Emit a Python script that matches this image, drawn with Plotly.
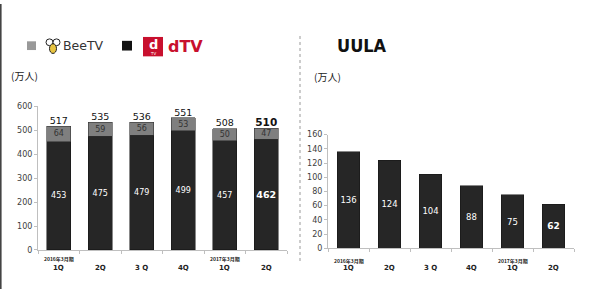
import plotly.graph_objects as go

W, H = 590, 294

# ---------------- data ----------------
quarters = ["1Q", "2Q", "3 Q", "4Q", "1Q", "2Q"]
periods = ["2016年3月期", "", "", "", "2017年3月期", ""]
dtv = [453, 475, 479, 499, 457, 462]
beetv = [64, 59, 56, 53, 50, 47]
totals = [517, 535, 536, 551, 508, 510]
uula = [136, 124, 104, 88, 75, 62]

def px(x):
    return x / W

def py(y):
    return 1 - y / H

BLACK = "#262626"
GRAY = "#7f7f7f"
RED = "#c8102e"
FONT = "DejaVu Sans"

xs = list(range(len(quarters)))
last = len(xs) - 1

fig = go.Figure()

# left chart: dTV (black) + BeeTV (gray)
fig.add_trace(go.Bar(
    x=xs, y=dtv, xaxis="x", yaxis="y", width=0.58,
    marker=dict(color=BLACK, line=dict(color="#111111", width=0.5)),
    text=[("<b>%d</b>" % v) if i == last else str(v) for i, v in enumerate(dtv)],
    textposition="inside", insidetextanchor="middle", constraintext="none", textangle=0,
    textfont=dict(color="white", family=FONT, size=[8, 8, 8, 8, 8, 9.5]),
    hoverinfo="skip", showlegend=False))
fig.add_trace(go.Bar(
    x=xs, y=beetv, xaxis="x", yaxis="y", width=0.58,
    marker=dict(color=GRAY, line=dict(color="#333333", width=0.6)),
    text=[str(v) for v in beetv],
    textposition="inside", insidetextanchor="middle", constraintext="none", textangle=0,
    textfont=dict(color="#333333", family=FONT, size=8),
    hoverinfo="skip", showlegend=False))
fig.add_trace(go.Scatter(
    x=xs, y=[a + b for a, b in zip(dtv, beetv)], xaxis="x", yaxis="y",
    mode="text",
    text=[("<b>%d</b>" % v) if i == last else str(v) for i, v in enumerate(totals)],
    textposition="top center",
    textfont=dict(color="#111111", family=FONT, size=[9.5, 9.5, 9.5, 9.5, 9.5, 10.5]),
    hoverinfo="skip", showlegend=False))

# right chart: UULA
fig.add_trace(go.Bar(
    x=xs, y=uula, xaxis="x2", yaxis="y2", width=0.56,
    marker=dict(color=BLACK, line=dict(color="#111111", width=0.5)),
    text=[("<b>%d</b>" % v) if i == last else str(v) for i, v in enumerate(uula)],
    textposition="inside", insidetextanchor="middle", constraintext="none", textangle=0,
    textfont=dict(color="white", family=FONT, size=[8.5, 8.5, 8.5, 8.5, 8.5, 9]),
    hoverinfo="skip", showlegend=False))

axis_common = dict(
    showgrid=False, zeroline=False, showline=True, linecolor="#bfbfbf", linewidth=1,
    tickfont=dict(family=FONT, size=8, color="#404040"),
)

xaxis_common = dict(
    showgrid=False, zeroline=False, showline=True, linecolor="#bfbfbf", linewidth=1,
    range=[-0.5, 5.5], tickvals=xs, ticktext=[""] * len(xs), ticks="",
    minor=dict(tick0=-0.5, dtick=1, ticks="outside", ticklen=3, tickcolor="#bfbfbf"),
)

fig.update_layout(
    width=W, height=H,
    margin=dict(l=0, r=0, t=0, b=0),
    paper_bgcolor="white", plot_bgcolor="white",
    barmode="stack", bargap=0.42,
    xaxis=dict(domain=[px(38), px(287)], anchor="y", **xaxis_common),
    yaxis=dict(domain=[py(253.7), py(105.7)], anchor="x", range=[0, 600],
               tickvals=[0, 100, 200, 300, 400, 500, 600],
               ticks="outside", ticklen=3, tickcolor="#bfbfbf", **axis_common),
    xaxis2=dict(domain=[px(328), px(574)], anchor="y2", **xaxis_common),
    yaxis2=dict(domain=[py(252), py(134.7)], anchor="x2", range=[0, 160],
                tickvals=[0, 20, 40, 60, 80, 100, 120, 140, 160],
                ticks="outside", ticklen=3, tickcolor="#bfbfbf", **axis_common),
)

ann = []
# x labels (two lines)
for xr, yp_per, yp_q in (("x", 263.5, 272), ("x2", 265.5, 272.5)):
    for i in xs:
        if periods[i]:
            ann.append(dict(x=i, y=py(yp_per), xref=xr, yref="paper", text="<b>%s</b>" % periods[i],
                            showarrow=False, font=dict(family="Noto Sans CJK JP", size=5, color="#222"),
                            xanchor="center", yanchor="middle"))
        ann.append(dict(x=i, y=py(yp_q), xref=xr, yref="paper", text="<b>%s</b>" % quarters[i],
                        showarrow=False, font=dict(family=FONT, size=7, color="#222"),
                        xanchor="center", yanchor="middle"))

# unit labels
ann.append(dict(x=px(9), y=py(73.5), xref="paper", yref="paper", text="(万人)", showarrow=False,
                font=dict(family="Noto Sans CJK JP", size=10, color="#222"), xanchor="left", yanchor="middle"))
ann.append(dict(x=px(312), y=py(75), xref="paper", yref="paper", text="(万人)", showarrow=False,
                font=dict(family="Noto Sans CJK JP", size=10, color="#222"), xanchor="left", yanchor="middle"))

# legend texts / logos
ann.append(dict(x=px(61), y=py(43), xref="paper", yref="paper", text="BeeTV", showarrow=False,
                font=dict(family=FONT, size=12.5, color="#333"), xanchor="left", yanchor="middle"))
ann.append(dict(x=px(153), y=py(41.5), xref="paper", yref="paper", text="<b>d</b>", showarrow=False,
                font=dict(family=FONT, size=13, color="white"), xanchor="center", yanchor="middle"))
ann.append(dict(x=px(153), y=py(51), xref="paper", yref="paper", text="TV", showarrow=False,
                font=dict(family=FONT, size=4, color="white"), xanchor="center", yanchor="middle"))
ann.append(dict(x=px(166), y=py(43.5), xref="paper", yref="paper", text="<b>dTV</b>", showarrow=False,
                font=dict(family=FONT, size=16, color=RED), xanchor="left", yanchor="middle"))
ann.append(dict(x=px(335), y=py(42.5), xref="paper", yref="paper", text="<b>UULA</b>", showarrow=False,
                font=dict(family="DejaVu Sans Condensed", size=18, color="#111"), xanchor="left", yanchor="middle"))

shapes = []
# left border line
shapes.append(dict(type="line", xref="paper", yref="paper", x0=px(0.8), x1=px(0.8), y0=0, y1=1,
                   line=dict(color="#444444", width=1.6)))
# dotted divider
shapes.append(dict(type="line", xref="paper", yref="paper", x0=px(300), x1=px(300), y0=py(33), y1=py(267),
                   line=dict(color="#999999", width=1, dash="dot")))
# legend squares
shapes.append(dict(type="rect", xref="paper", yref="paper", x0=px(27), x1=px(36), y0=py(47.5), y1=py(38.5),
                   fillcolor="#999999", line=dict(width=0)))
shapes.append(dict(type="rect", xref="paper", yref="paper", x0=px(122), x1=px(132), y0=py(48), y1=py(38),
                   fillcolor="#111111", line=dict(width=0)))
# bee icon
shapes.append(dict(type="circle", xref="paper", yref="paper", x0=px(46), x1=px(53), y0=py(43), y1=py(36),
                   fillcolor="white", line=dict(color="#222", width=1)))
shapes.append(dict(type="circle", xref="paper", yref="paper", x0=px(53), x1=px(60), y0=py(43), y1=py(36),
                   fillcolor="white", line=dict(color="#222", width=1)))
shapes.append(dict(type="circle", xref="paper", yref="paper", x0=px(49.5), x1=px(56.5), y0=py(51), y1=py(41),
                   fillcolor="#e8c440", line=dict(color="#222", width=1)))
# dTV red box
shapes.append(dict(type="rect", xref="paper", yref="paper", x0=px(143), x1=px(163), y0=py(54), y1=py(34),
                   fillcolor=RED, line=dict(width=0)))

fig.update_layout(annotations=ann, shapes=shapes)

fig.write_html("out.html")
